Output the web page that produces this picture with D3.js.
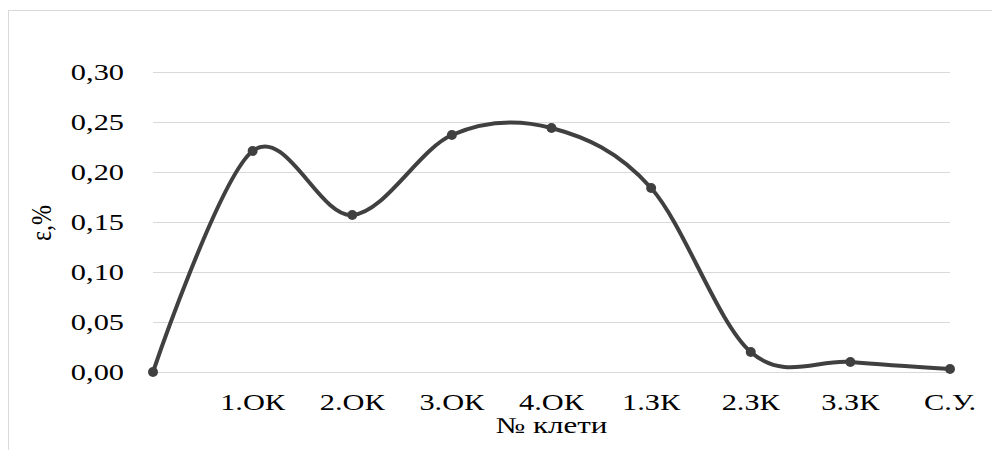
<!DOCTYPE html>
<html>
<head>
<meta charset="utf-8">
<script src="https://cdn.jsdelivr.net/npm/d3@7"></script>
<style>
  body { margin: 0; background: #fff; }
  text { font-family: "Liberation Serif", "Times New Roman", serif; fill: #000; }
</style>
</head>
<body>
<div id="chart"></div>
<script>
// ---- data ----
const stands = ["", "1.ОК", "2.ОК", "3.ОК", "4.ОК", "1.ЗК", "2.ЗК", "3.ЗК", "С.У."];
const strain = [0, 0.221, 0.157, 0.237, 0.244, 0.184, 0.020, 0.010, 0.003];
const yTicks = [0, 0.05, 0.10, 0.15, 0.20, 0.25, 0.30];

// ---- layout ----
const W = 992, H = 450;
const plot = { left: 153, right: 950, top: 72, bottom: 372 };
const stretch = 1.35; // text in the picture is widened horizontally
const lineColor = "#404040";

const svg = d3.select("#chart").append("svg")
  .attr("width", W)
  .attr("height", H);

// outer frame of the chart area
svg.append("rect")
  .attr("x", 8.5).attr("y", 10.5)
  .attr("width", W).attr("height", H)
  .attr("fill", "none")
  .attr("stroke", "#d9d9d9");

const x = d3.scalePoint().domain(stands).range([plot.left, plot.right]);
const y = d3.scaleLinear().domain([0, 0.30]).range([plot.bottom, plot.top]);

const fmt = v => d3.format(".2f")(v).replace(".", ",");

// gridlines
svg.append("g")
  .selectAll("line")
  .data(yTicks)
  .join("line")
  .attr("x1", plot.left).attr("x2", plot.right)
  .attr("y1", d => Math.round(y(d)) + 0.5)
  .attr("y2", d => Math.round(y(d)) + 0.5)
  .attr("stroke", "#d9d9d9")
  .attr("stroke-width", 1);

// y tick labels
svg.append("g")
  .selectAll("text")
  .data(yTicks)
  .join("text")
  .attr("transform", d => `translate(124,${y(d) + 8}) scale(${stretch},1)`)
  .attr("text-anchor", "end")
  .attr("font-size", 22.5)
  .text(fmt);

// x tick labels
svg.append("g")
  .selectAll("text")
  .data(stands.filter(s => s !== ""))
  .join("text")
  .attr("transform", d => `translate(${x(d)},410) scale(${stretch},1)`)
  .attr("text-anchor", "middle")
  .attr("font-size", 22.5)
  .text(d => d);

// axis titles
svg.append("text")
  .attr("transform", `translate(${(plot.left + plot.right) / 2},433) scale(${stretch},1)`)
  .attr("text-anchor", "middle")
  .attr("font-size", 23)
  .text("№ клети");

svg.append("text")
  .attr("transform", "translate(51,223) rotate(-90) scale(1,1.25)")
  .attr("text-anchor", "middle")
  .attr("font-size", 24)
  .text("ε,%");

// smoothed line (Excel-like smoothing)
const pts = stands.map((s, i) => ({ s, v: strain[i] }));
const line = d3.line()
  .x(d => x(d.s))
  .y(d => y(d.v))
  .curve(d3.curveCardinal.tension(0));

svg.append("path")
  .datum(pts)
  .attr("fill", "none")
  .attr("stroke", lineColor)
  .attr("stroke-width", 4)
  .attr("stroke-linejoin", "round")
  .attr("d", line);

svg.append("g")
  .selectAll("circle")
  .data(pts)
  .join("circle")
  .attr("cx", d => x(d.s))
  .attr("cy", d => y(d.v))
  .attr("r", 5)
  .attr("fill", lineColor);
</script>
</body>
</html>
